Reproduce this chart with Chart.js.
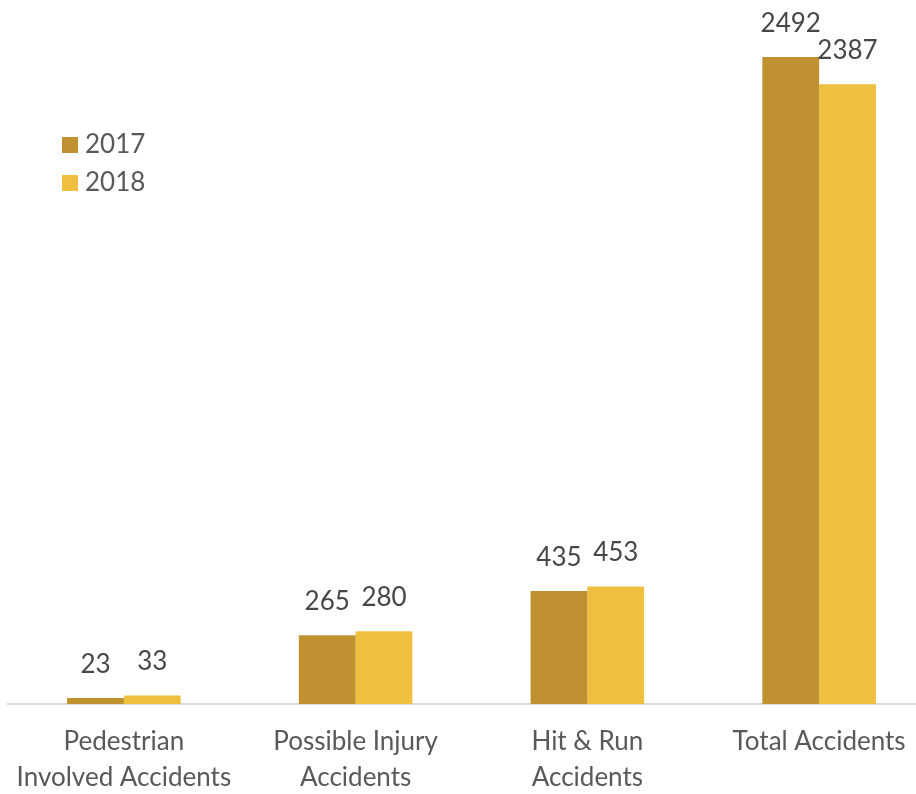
<!DOCTYPE html>
<html>
<head>
<meta charset="utf-8">
<script src="https://cdn.jsdelivr.net/npm/chart.js@4.4.0/dist/chart.umd.min.js"></script>
<style>
  html, body { margin: 0; padding: 0; background: #fff; overflow: hidden; }
  #wrap { width: 916px; height: 794px; overflow: hidden; }
</style>
</head>
<body>
<div id="wrap"><canvas id="chart" width="936" height="794"></canvas></div>
<script>
// Chart data
const categories = [
  ['Pedestrian', 'Involved Accidents'],
  ['Possible Injury', 'Accidents'],
  ['Hit & Run', 'Accidents'],
  'Total Accidents'
];
const seriesNames = ['2017', '2018'];
const values2017 = [23, 265, 435, 2492];
const values2018 = [33, 280, 453, 2387];
const seriesColors = ['#BF9130', '#EFC040'];

const FONT = 'Lato, "Liberation Sans", sans-serif';

// value labels above bars
const valueLabels = {
  id: 'valueLabels',
  afterDatasetsDraw(chart) {
    const ctx = chart.ctx;
    ctx.save();
    ctx.font = '26px ' + FONT;
    ctx.fillStyle = '#474747';
    ctx.textAlign = 'center';
    ctx.textBaseline = 'alphabetic';
    chart.data.datasets.forEach((ds, i) => {
      chart.getDatasetMeta(i).data.forEach((bar, j) => {
        ctx.fillText(ds.data[j], bar.x, bar.y - 25);
      });
    });
    ctx.restore();
  }
};

// legend inside plot, top-left
const insideLegend = {
  id: 'insideLegend',
  afterDraw(chart) {
    const ctx = chart.ctx;
    ctx.save();
    ctx.font = '26px ' + FONT;
    ctx.textBaseline = 'middle';
    chart.data.datasets.forEach((ds, i) => {
      const y = 137 + i * 38;
      ctx.fillStyle = ds.backgroundColor;
      ctx.fillRect(62, y, 16, 16);
      ctx.fillStyle = '#595959';
      ctx.fillText(ds.label, 85, y + 8);
    });
    ctx.restore();
  }
};

new Chart(document.getElementById('chart'), {
  type: 'bar',
  data: {
    labels: categories,
    datasets: [
      { label: seriesNames[0], data: values2017, backgroundColor: seriesColors[0] },
      { label: seriesNames[1], data: values2018, backgroundColor: seriesColors[1] }
    ]
  },
  options: {
    responsive: false,
    animation: false,
    layout: { padding: { top: 3, left: 8, right: 1, bottom: 0 } },
    datasets: { bar: { barPercentage: 1, categoryPercentage: 0.49 } },
    plugins: {
      legend: { display: false },
      tooltip: { enabled: false }
    },
    scales: {
      x: {
        grid: { display: false, drawTicks: false },
        border: { display: true, color: '#D9D9D9', width: 2 },
        ticks: {
          color: '#595959',
          font: { family: FONT, size: 26, lineHeight: 1.385 },
          padding: 20,
          autoSkip: false,
          maxRotation: 0
        },
        afterFit(scale) {
          scale.height = 90;
          scale.paddingLeft = 0;
          scale.paddingRight = 0;
        }
      },
      y: {
        display: false,
        min: 0,
        max: 2700
      }
    }
  },
  plugins: [valueLabels, insideLegend]
});
</script>
</body>
</html>
